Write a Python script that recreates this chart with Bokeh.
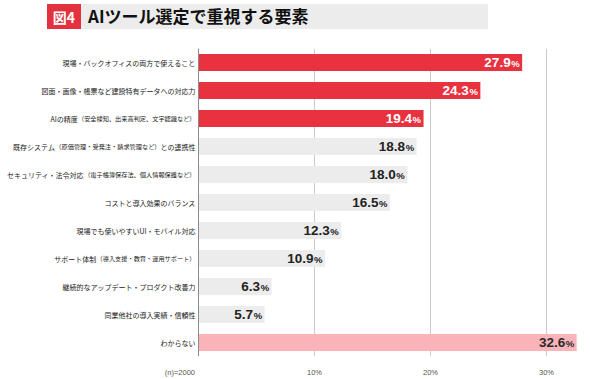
from bokeh.plotting import figure
from bokeh.models import ColumnDataSource, FactorRange, Range1d, Span, Div, FixedTicker
from bokeh.layouts import column
from bokeh.embed import file_html
from bokeh.resources import INLINE
from bokeh.core.properties import value

categories = [
    "現場・バックオフィスの両方で使えること",
    "図面・画像・帳票など建設特有データへの対応力",
    "AIの精度（安全検知、出来高判定、文字認識など）",
    "既存システム（原価管理・受発注・請求管理など）との連携性",
    "セキュリティ・法令対応（電子帳簿保存法、個人情報保護など）",
    "コストと導入効果のバランス",
    "現場でも使いやすいUI・モバイル対応",
    "サポート体制（導入支援・教育・運用サポート）",
    "継続的なアップデート・プロダクト改善力",
    "同業他社の導入実績・信頼性",
    "わからない",
]
values = [27.9, 24.3, 19.4, 18.8, 18.0, 16.5, 12.3, 10.9, 6.3, 5.7, 32.6]
tick_values = [10, 20, 30]
tick_labels = ["10%", "20%", "30%"]
n_note = "(n)=2000"
title_no = "図4"
title_text = "AIツール選定で重視する要素"
dont_know = "わからない"

RED = "#e8323f"
GRAY = "#ececec"
PINK = "#f9b3b9"
FONT_JP = "Noto Sans CJK JP"
FONT_NUM = "Liberation Sans"

top3 = sorted([v for c, v in zip(categories, values) if c != dont_know], reverse=True)[:3]
bar_colors, txt_colors = [], []
for c, v in zip(categories, values):
    if c == dont_know:
        bar_colors.append(PINK); txt_colors.append("#2a2a2a")
    elif v in top3:
        bar_colors.append(RED); txt_colors.append("#ffffff")
    else:
        bar_colors.append(GRAY); txt_colors.append("#222222")

src = ColumnDataSource(dict(
    cat=categories, val=values,
    num=[f"{v:.1f}" for v in values], pct=["%"] * len(values),
    color=bar_colors, tcolor=txt_colors,
))

PX_PER_UNIT = 11.6
FIG_W = 590
ZERO_PX = 198
p = figure(
    width=FIG_W, height=349,
    y_range=FactorRange(*reversed(categories)),
    x_range=Range1d(-ZERO_PX / PX_PER_UNIT, (FIG_W - ZERO_PX) / PX_PER_UNIT),
    y_axis_location=None,
    output_backend="svg", toolbar_location=None,
    min_border_left=0, min_border_right=0, min_border_top=18, min_border_bottom=18,
)
p.outline_line_color = None

p.hbar(y="cat", left=0, right="val", height=0.6, fill_color="color",
       line_color=None, source=src)

# x axis: percent ticks plus the sample-size note placed left of zero
note_pos = -1.6
p.xaxis.ticker = FixedTicker(ticks=[note_pos] + tick_values)
overrides = {t: l for t, l in zip(tick_values, tick_labels)}
overrides[note_pos] = n_note
p.xaxis.major_label_overrides = overrides
p.xaxis.axis_line_color = None
p.xaxis.major_tick_line_color = None
p.xaxis.minor_tick_line_color = None
p.xaxis.major_label_text_font_size = "7.5px"
p.xaxis.major_label_text_color = "#555555"
p.xaxis.major_label_text_font = FONT_NUM
p.xaxis.major_label_standoff = 5
p.xgrid.ticker = FixedTicker(ticks=tick_values)
p.xgrid.grid_line_color = "#cccccc"
p.xgrid.grid_line_width = 1
p.ygrid.grid_line_color = None

p.add_layout(Span(location=0, dimension="height", line_color="#8c8c8c", line_width=1))

# category labels (parenthetical parts smaller)
MAIN_FS, SMALL_FS = 7.0, 6.2

def split_segments(label):
    segs, cur = [], ""
    for ch in label:
        if ch == "（":
            if cur:
                segs.append((cur, False))
            cur = ch
        elif ch == "）":
            segs.append((cur + ch, True))
            cur = ""
        else:
            cur += ch
    if cur:
        segs.append((cur, False))
    return segs

def text_width(s, fs):
    return sum(fs if ord(c) > 0x2000 else 0.6 * fs for c in s)

ly, lt, lxo, lfs = [], [], [], []
for cat in categories:
    off = 3.0
    for seg, small in reversed(split_segments(cat)):
        fs = SMALL_FS if small else MAIN_FS
        ly.append(cat); lt.append(seg); lxo.append(-off); lfs.append(f"{fs}px")
        off += text_width(seg, fs)
lsrc = ColumnDataSource(dict(y=ly, text=lt, xo=lxo, fs=lfs))
p.text(x=0, y="y", text="text", x_offset="xo", text_font_size="fs",
       text_align="right", text_baseline="middle", text_font=value(FONT_JP),
       text_color="#222222", source=lsrc)

# value labels
p.text(x="val", y="cat", text="num", x_offset=-11.5, y_offset=0,
       text_align="right", text_baseline="middle", text_font=value(FONT_NUM),
       text_font_size="13.5px", text_font_style="bold", text_color="tcolor", source=src)
p.text(x="val", y="cat", text="pct", x_offset=-2.5, y_offset=1.4,
       text_align="right", text_baseline="middle", text_font=value(FONT_NUM),
       text_font_size="9.5px", text_font_style="bold", text_color="tcolor", source=src)

title_html = f"""
<div style="display:flex;align-items:center;width:441px;height:25px;margin-top:4px;background:#ececec;margin-left:47px;font-family:'{FONT_JP}',sans-serif;">
  <div style="width:34px;height:25px;background:#e3323e;color:#ffffff;font-weight:bold;font-size:14px;display:flex;align-items:center;justify-content:center;">{title_no}</div>
  <div style="margin-left:7px;font-weight:bold;font-size:17px;color:#111111;">{title_text}</div>
</div>
"""
div = Div(text=title_html, width=FIG_W, height=30, margin=(0, 0, 0, 0))

layout = column(div, p, spacing=0)
open("out.html", "w").write(file_html(layout, INLINE))
